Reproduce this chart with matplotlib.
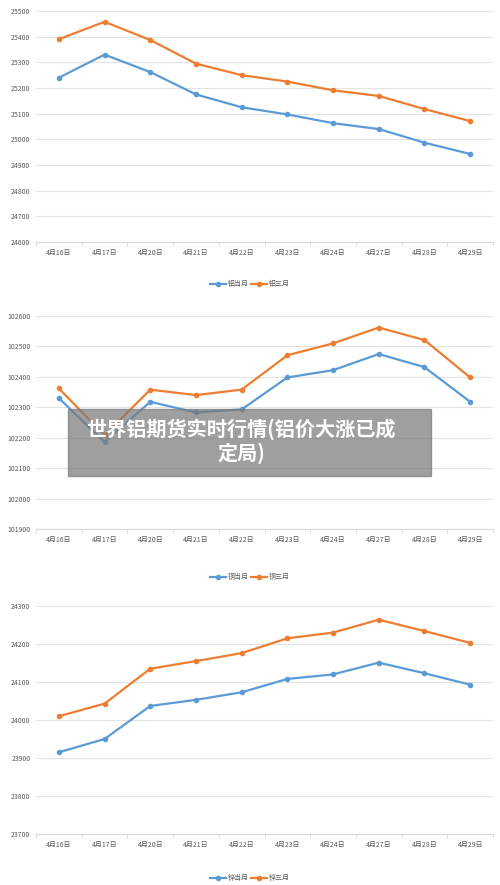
import numpy as np
import matplotlib.pyplot as plt
from matplotlib.patches import Rectangle

plt.rcParams['font.family'] = ['Noto Sans CJK SC', 'DejaVu Sans']

dates = ['4月16日', '4月17日', '4月20日', '4月21日', '4月22日',
         '4月23日', '4月24日', '4月27日', '4月28日', '4月29日']

al_cur = [25240, 25330, 25262, 25175, 25125, 25097, 25063, 25040, 24987, 24943]
al_3m = [25390, 25458, 25387, 25295, 25250, 25225, 25191, 25169, 25118, 25071]
cu_cur = [102330, 102186, 102318, 102283, 102293, 102398, 102422, 102475, 102432, 102318]
cu_3m = [102362, 102208, 102358, 102340, 102358, 102471, 102510, 102562, 102521, 102398]
zn_cur = [23915, 23950, 24037, 24053, 24073, 24108, 24120, 24151, 24123, 24093]
zn_3m = [24010, 24043, 24135, 24155, 24176, 24215, 24230, 24264, 24234, 24203]

panels = [
    (al_cur, al_3m, ('铝当月', '铝三月'), (24600, 25500), 11, 242, 284),
    (cu_cur, cu_3m, ('铜当月', '铜三月'), (101900, 102600), 316, 529, 577),
    (zn_cur, zn_3m, ('锌当月', '锌三月'), (23700, 24300), 606, 834, 878),
]

W, H = 500, 885
fig = plt.figure(figsize=(W / 100, H / 100), dpi=100)
blue, orange = '#5b9bd5', '#ed7d31'
x = np.arange(len(dates))

for cur, m3, names, (lo, hi), top, bot, leg_y in panels:
    ax = fig.add_axes([36 / W, 1 - bot / H, (493 - 36) / W, (bot - top) / H])
    ax.plot(x, cur, color=blue, lw=1.6, marker='o', ms=3, label=names[0])
    ax.plot(x, m3, color=orange, lw=1.6, marker='o', ms=3, label=names[1])
    ax.set_xlim(-0.5, len(dates) - 0.5)
    ax.set_ylim(lo, hi)
    ax.set_yticks(np.arange(lo, hi + 1, 100))
    ax.set_xticks(x)
    ax.set_xticklabels(dates)
    ax.set_xticks(np.arange(-0.5, len(dates), 1), minor=True)
    ax.tick_params(axis='x', which='major', length=0, pad=5)
    ax.tick_params(axis='x', which='minor', length=3, color='#d9d9d9')
    ax.tick_params(axis='y', length=0, pad=4)
    ax.tick_params(labelsize=5, labelcolor='#595959')
    ax.grid(axis='y', color='#e3e3e3', lw=0.8)
    ax.set_axisbelow(True)
    for s in ['top', 'right', 'left']:
        ax.spines[s].set_visible(False)
    ax.spines['bottom'].set_color('#d9d9d9')
    fig.legend(handles=ax.get_lines(), loc='center', ncol=2,
               bbox_to_anchor=(0.5, 1 - leg_y / H), frameon=False,
               fontsize=5, labelcolor='#595959', handlelength=2.2,
               columnspacing=0.4, handletextpad=0.3)

fig.patches.append(Rectangle((68 / W, 1 - 476 / H), (431 - 68) / W, 67 / H,
                             transform=fig.transFigure, color='#7a7a7a', alpha=0.72,
                             zorder=10))
fig.text(241 / W, 1 - 441 / H, '世界铝期货实时行情(铝价大涨已成\n定局)', ha='center',
         va='center', color='white', fontsize=14.5, fontweight='bold', zorder=11,
         linespacing=1.15)

fig.savefig('out.png', dpi=100, facecolor='white')
